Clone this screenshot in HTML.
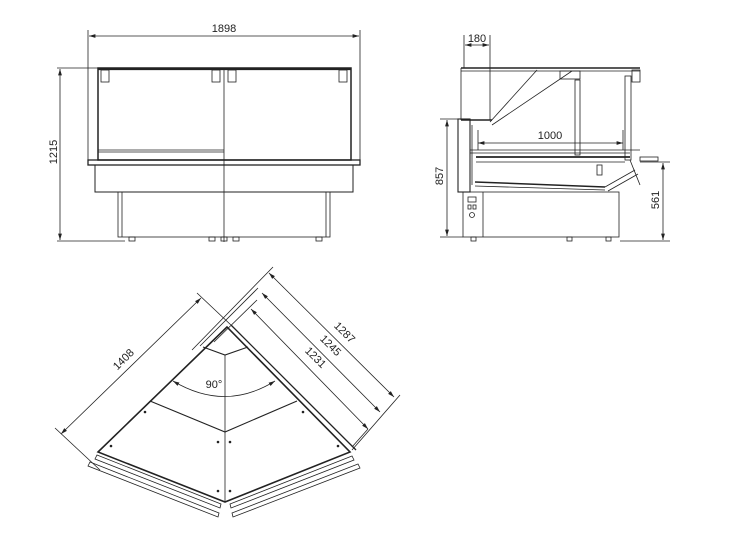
<!DOCTYPE html>
<html><head><style>html,body{margin:0;padding:0;background:#fff}svg{display:block}text{font-family:"Liberation Sans",sans-serif;font-size:11px;fill:#222}</style></head>
<body>
<svg width="745" height="536" viewBox="0 0 745 536" xmlns="http://www.w3.org/2000/svg">
<defs><marker id="a" viewBox="0 0 10 6" refX="10" refY="3" markerWidth="8" markerHeight="5" orient="auto-start-reverse"><path d="M0,0L10,3L0,6z" fill="#222"/></marker></defs>
<g stroke="#222" fill="none" stroke-width="0.8">
<!-- FRONT VIEW -->
<line x1="88" y1="30" x2="88" y2="160"/><line x1="360" y1="30" x2="360" y2="160"/>
<line x1="89" y1="36" x2="359" y2="36" marker-start="url(#a)" marker-end="url(#a)"/>
<line x1="57" y1="68" x2="148" y2="68"/><line x1="57" y1="241" x2="125" y2="241"/>
<line x1="60" y1="69" x2="60" y2="240" marker-start="url(#a)" marker-end="url(#a)"/>
<rect x="98" y="68" width="253" height="92" stroke-width="1.5"/>
<line x1="98" y1="69" x2="351" y2="69" stroke-width="2.2"/>
<line x1="224" y1="68" x2="224" y2="242"/>
<line x1="98" y1="150" x2="224" y2="150"/><line x1="98" y1="152" x2="224" y2="152"/>
<rect x="101" y="70" width="8" height="12"/><rect x="212" y="70" width="8" height="12"/><rect x="228" y="70" width="8" height="12"/><rect x="339" y="70" width="8" height="12"/>
<rect x="88" y="160" width="272" height="5" stroke-width="1.3"/>
<rect x="95" y="165" width="258" height="27" stroke-width="1"/>
<rect x="118" y="192" width="212" height="45"/>
<line x1="122" y1="192" x2="122" y2="237"/><line x1="326" y1="192" x2="326" y2="237"/>
<rect x="129" y="237" width="6" height="4"/><rect x="209" y="237" width="6" height="4"/><rect x="221" y="237" width="6" height="4"/><rect x="233" y="237" width="6" height="4"/><rect x="316" y="237" width="6" height="4"/>
<!-- SIDE VIEW -->
<line x1="464" y1="35" x2="464" y2="68"/><line x1="490" y1="35" x2="490" y2="120"/>
<line x1="465" y1="45" x2="489" y2="45" marker-start="url(#a)" marker-end="url(#a)"/>
<line x1="461" y1="68" x2="640" y2="68" stroke-width="1.4"/>
<line x1="461" y1="71" x2="640" y2="71"/>
<line x1="461" y1="68" x2="461" y2="120"/><line x1="461" y1="120" x2="492" y2="120" stroke-width="1.4"/>
<line x1="490" y1="122" x2="537" y2="70"/><line x1="492" y1="125" x2="572" y2="71"/>
<rect x="575" y="80" width="5" height="75"/><rect x="625" y="76" width="6" height="84"/><rect x="632" y="70" width="8" height="12"/>
<rect x="560" y="71" width="20" height="8"/>
<rect x="458" y="119" width="12" height="73" stroke-width="1.1"/><line x1="472" y1="125" x2="472" y2="185"/>
<line x1="470" y1="150" x2="640" y2="150"/><line x1="470" y1="153" x2="630" y2="153"/>
<line x1="476" y1="157" x2="630" y2="157" stroke-width="1.7"/><line x1="476" y1="162" x2="625" y2="162"/>
<line x1="475" y1="182" x2="605" y2="187" stroke-width="1.5"/><line x1="475" y1="186" x2="605" y2="190"/>
<line x1="605" y1="187" x2="635" y2="170"/><line x1="608" y1="191" x2="638" y2="174"/>
<line x1="630" y1="160" x2="640" y2="185"/>
<rect x="597" y="165" width="5" height="10"/>
<line x1="478" y1="143" x2="623" y2="143" marker-start="url(#a)" marker-end="url(#a)"/>
<line x1="478" y1="130" x2="478" y2="150"/><line x1="623" y1="130" x2="623" y2="150"/>
<rect x="463" y="192" width="156" height="45"/><line x1="483" y1="192" x2="483" y2="237"/>
<rect x="468" y="197" width="8" height="5"/><rect x="468" y="205" width="3" height="4"/><rect x="473" y="205" width="3" height="4"/><circle cx="472" cy="215" r="2.5"/>
<rect x="640" y="157" width="18" height="4"/>
<line x1="440" y1="119" x2="458" y2="119"/><line x1="440" y1="237" x2="463" y2="237"/>
<line x1="447" y1="120" x2="447" y2="236" marker-start="url(#a)" marker-end="url(#a)"/>
<line x1="640" y1="162" x2="670" y2="162"/><line x1="620" y1="241" x2="670" y2="241"/>
<line x1="663" y1="163" x2="663" y2="240" marker-start="url(#a)" marker-end="url(#a)"/>
<rect x="471" y="237" width="5" height="4"/><rect x="567" y="237" width="5" height="4"/><rect x="606" y="237" width="5" height="4"/>
<!-- CORNER VIEW -->
<path d="M227,327 L98,452 L225,502 L350,452 Z" stroke-width="1.6"/>
<line x1="231" y1="325" x2="356" y2="450" stroke-width="1.3"/>
<line x1="225" y1="355" x2="225" y2="502"/>
<polyline points="203,347 225,355 248,347" stroke-width="1.1"/>
<polyline points="150,401 225,432 297,401" stroke-width="1.1"/>
<path d="M173,381 Q225,412 275,381" marker-start="url(#a)" marker-end="url(#a)"/>
<path d="M97,455 L221,504 L220,508 L95,459 Z"/>
<path d="M90,462 L219,513 L218,517 L88,466 Z"/>
<path d="M230,504 L352,456 L354,460 L231,508 Z"/>
<path d="M232,513 L358,464 L360,468 L233,517 Z"/>
<line x1="61" y1="434" x2="201" y2="298" marker-start="url(#a)" marker-end="url(#a)"/>
<line x1="55" y1="428" x2="100" y2="470"/>
<line x1="197" y1="293" x2="232" y2="326"/>
<line x1="269" y1="273" x2="394" y2="397" marker-start="url(#a)" marker-end="url(#a)"/>
<line x1="262" y1="293" x2="380" y2="412" marker-start="url(#a)" marker-end="url(#a)"/>
<line x1="251" y1="309" x2="368" y2="429" marker-start="url(#a)" marker-end="url(#a)"/>
<line x1="192" y1="350" x2="273" y2="267"/><line x1="200" y1="346" x2="258" y2="288"/><line x1="214" y1="342" x2="257" y2="300"/>
<line x1="352" y1="450" x2="400" y2="395"/><line x1="368" y1="429" x2="352" y2="447"/>
</g>
<g fill="#222">
<circle cx="145" cy="412" r="1.3"/><circle cx="303" cy="412" r="1.3"/><circle cx="111" cy="446" r="1.3"/><circle cx="338" cy="446" r="1.3"/>
<circle cx="218" cy="442" r="1.3"/><circle cx="230" cy="442" r="1.3"/><circle cx="218" cy="491" r="1.3"/><circle cx="230" cy="491" r="1.3"/>
</g>
<text x="224" y="32" text-anchor="middle">1898</text>
<text transform="translate(57,152) rotate(-90)" text-anchor="middle">1215</text>
<text x="477" y="42" text-anchor="middle">180</text>
<text x="550" y="139" text-anchor="middle">1000</text>
<text transform="translate(443,176) rotate(-90)" text-anchor="middle">857</text>
<text transform="translate(659,200) rotate(-90)" text-anchor="middle">561</text>
<text transform="translate(126,362) rotate(-45)" text-anchor="middle">1408</text>
<text transform="translate(342,335) rotate(45)" text-anchor="middle">1287</text>
<text transform="translate(328,348) rotate(45)" text-anchor="middle">1245</text>
<text transform="translate(313,360) rotate(45)" text-anchor="middle">1231</text>
<text x="214" y="388" text-anchor="middle">90°</text>
</svg>
</body></html>
